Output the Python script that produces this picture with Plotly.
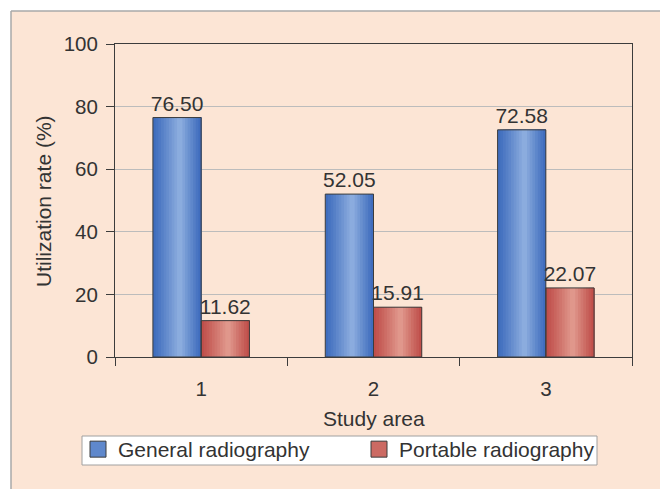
import plotly.graph_objects as go

# Study areas and utilization rates (%)
areas = ["1", "2", "3"]
general = [76.50, 52.05, 72.58]
portable = [11.62, 15.91, 22.07]
y_ticks = [0, 20, 40, 60, 80, 100]

FONT = "Liberation Sans, Arial, sans-serif"
TXT = "#333333"
EDGE = "#3c3c3c"
BAR_W = 0.28
N_STRIPS = 18


def mix(c1, c2, t):
    return "rgb(%d,%d,%d)" % tuple(round(a + (b - a) * t) for a, b in zip(c1, c2))


def shade(u):
    # lightness profile across the bar: dark edges, highlight a bit right of centre
    peak = 0.56
    d = abs(u - peak) / (peak if u < peak else 1 - peak)
    return max(0.0, 1 - d) ** 1.1


series = [
    ("General radiography", general, -BAR_W, (60, 106, 188), (144, 176, 224), "#5f88cc"),
    ("Portable radiography", portable, 0.0, (190, 76, 72), (226, 156, 144), "#cc6a63"),
]

fig = go.Figure()

# cylinder-like shading built from stacked strips
for name, vals, off, dark, light, mid in series:
    step = BAR_W / N_STRIPS
    for k in range(N_STRIPS):
        u = (k + 0.5) / N_STRIPS
        fig.add_trace(go.Bar(
            x=areas, y=vals, offset=off + k * step, width=BAR_W - k * step,
            marker=dict(color=mix(dark, light, shade(u)), line=dict(width=0)),
            showlegend=False, hoverinfo="skip",
        ))

# outlines and value labels
for name, vals, off, dark, light, mid in series:
    fig.add_trace(go.Bar(
        x=areas, y=vals, offset=off, width=BAR_W,
        marker=dict(color="rgba(0,0,0,0)", line=dict(color=EDGE, width=1)),
        text=["%.2f" % v for v in vals], textposition="outside",
        textfont=dict(family=FONT, size=21, color=TXT),
        constraintext="none", cliponaxis=False,
        showlegend=False, hoverinfo="skip",
    ))

# legend keys
for name, vals, off, dark, light, mid in series:
    fig.add_trace(go.Scatter(
        x=[None], y=[None], mode="markers", name=name,
        marker=dict(symbol="square", size=17, color=mid,
                    line=dict(color=EDGE, width=1)),
        showlegend=True, hoverinfo="skip",
    ))

# plot-area geometry in pixels
L, R, T, B = 115, 632, 44, 357
W_FIG, H_FIG = 660, 489


def px_x(p):
    return (p - L) / (R - L)


def px_y(p):
    return (B - p) / (B - T)


FRAME = dict(color="#a8a8a8", width=1.5)

fig.update_layout(
    width=W_FIG, height=H_FIG,
    margin=dict(l=L, r=W_FIG - R, t=T, b=H_FIG - B, autoexpand=False),
    paper_bgcolor="white", plot_bgcolor="white",
    barmode="overlay",
    font=dict(family=FONT, size=20, color=TXT),
    showlegend=True,
    legend=dict(
        orientation="h", x=px_x(78), y=px_y(429), xanchor="left", yanchor="top",
        bgcolor="rgba(0,0,0,0)", borderwidth=0,
        font=dict(family=FONT, size=21, color=TXT),
        entrywidth=236, itemwidth=30, itemsizing="trace", traceorder="normal",
    ),
    shapes=[
        # peach panel behind the chart, framed on top and left
        dict(type="rect", xref="paper", yref="paper", layer="below",
             x0=px_x(11), x1=px_x(720), y0=px_y(540), y1=px_y(11),
             fillcolor="#fce5d5", line=dict(width=0)),
        dict(type="line", xref="paper", yref="paper", layer="below",
             x0=px_x(11), x1=px_x(720), y0=px_y(11), y1=px_y(11), line=FRAME),
        dict(type="line", xref="paper", yref="paper", layer="below",
             x0=px_x(11), x1=px_x(11), y0=px_y(11), y1=px_y(540), line=FRAME),
        # legend box
        dict(type="rect", xref="paper", yref="paper", layer="above",
             x0=px_x(82), x1=px_x(597), y0=px_y(465), y1=px_y(436),
             fillcolor="white", line=dict(color="#a0a0a0", width=1)),
    ],
    annotations=[
        dict(text="Study area", xref="paper", yref="paper",
             x=px_x(374), y=px_y(418), showarrow=False,
             font=dict(family=FONT, size=21, color=TXT),
             xanchor="center", yanchor="middle"),
        dict(text="Utilization rate (%)", xref="paper", yref="paper",
             x=px_x(43), y=px_y(201), showarrow=False, textangle=-90,
             font=dict(family=FONT, size=21, color=TXT),
             xanchor="center", yanchor="middle"),
    ],
)

fig.update_xaxes(
    type="category", tickson="boundaries", ticks="outside", ticklen=8,
    tickcolor=EDGE, showline=True, linecolor=EDGE, linewidth=1, mirror=True,
    showgrid=False, tickfont=dict(family=FONT, size=20.5, color=TXT),
    ticklabelstandoff=13,
)
fig.update_yaxes(
    range=[0, 100], tickvals=y_ticks, ticks="outside", ticklen=8,
    tickcolor=EDGE, showline=True, linecolor=EDGE, linewidth=1, mirror=True,
    showgrid=True, gridcolor="#bcbcbc", gridwidth=1, zeroline=False,
    tickfont=dict(family=FONT, size=20.5, color=TXT), ticklabelstandoff=4,
)

fig.write_html("out.html")
